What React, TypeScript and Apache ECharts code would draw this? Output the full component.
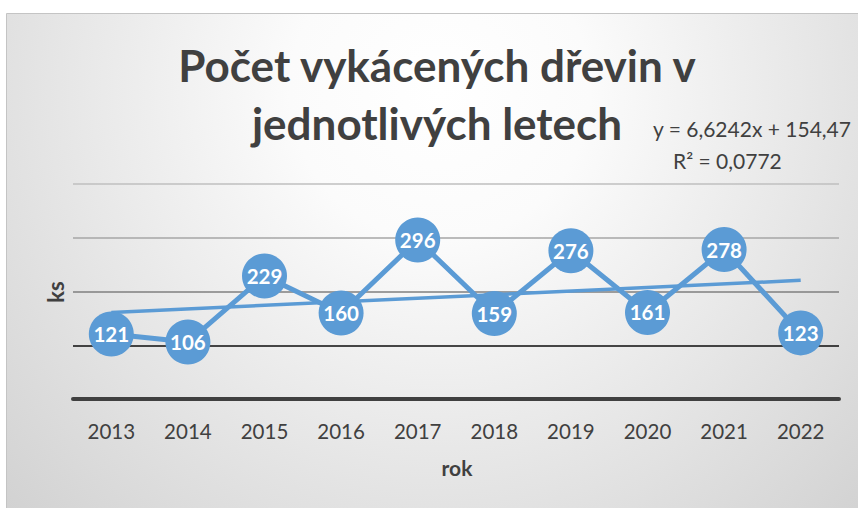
import React, { useEffect, useRef } from "react";
import * as echarts from "echarts";

const YEARS = ["2013", "2014", "2015", "2016", "2017", "2018", "2019", "2020", "2021", "2022"];
const COUNTS = [121, 106, 229, 160, 296, 159, 276, 161, 278, 123];
const TREND_SLOPE = 6.6242;
const TREND_INTERCEPT = 154.47;
const Y_MIN = 0;
const Y_MAX = 400;
const Y_STEP = 100;
const TITLE_LINES = ["Počet vykácených dřevin v", "jednotlivých letech"];
const EQUATION_LINES = ["y = 6,6242x + 154,47", "R² = 0,0772"];
const X_NAME = "rok";
const Y_NAME = "ks";

const FONT = "Lato, 'Noto Sans', sans-serif";
const TEXT = "#404040";
const BLUE = "#5b9bd5";

export default function App() {
  const ref = useRef<HTMLDivElement>(null);

  useEffect(() => {
    if (!ref.current) return;
    const chart = echarts.init(ref.current, undefined, { renderer: "svg" });
    const last = YEARS.length - 1;
    const trend = YEARS.map((_, i) =>
      i === 0 || i === last ? TREND_INTERCEPT + TREND_SLOPE * (i + 1) : null
    );

    chart.setOption({
      animation: false,
      backgroundColor: "#ffffff",
      grid: { left: 73, right: 19, top: 184, bottom: 109, containLabel: false },
      xAxis: {
        type: "category",
        data: YEARS,
        boundaryGap: true,
        axisLine: { show: true, lineStyle: { color: "#404040", width: 4 } },
        axisTick: { show: false },
        axisLabel: { color: TEXT, fontFamily: FONT, fontSize: 20.5, margin: 21 },
        splitLine: { show: false },
      },
      yAxis: {
        type: "value",
        min: Y_MIN,
        max: Y_MAX,
        interval: Y_STEP,
        axisLine: { show: false },
        axisTick: { show: false },
        axisLabel: { show: false },
        splitLine: {
          show: true,
          lineStyle: {
            color: ["#404040", "#0d0d0d", "#7f7f7f", "#a6a6a6", "#bfbfbf"],
            width: 1.5,
          },
        },
      },
      graphic: [
        {
          type: "rect",
          z: -10,
          silent: true,
          shape: { x: 6.5, y: 13.5, width: 900, height: 600 },
          style: {
            fill: new echarts.graphic.RadialGradient(
              440,
              90,
              600,
              [
                { offset: 0, color: "#ffffff" },
                { offset: 0.25, color: "#fbfbfb" },
                { offset: 1, color: "#d2d2d2" },
              ],
              true
            ),
            stroke: "#c4c4c4",
            lineWidth: 1,
          },
        },
        {
          type: "text",
          x: 437,
          y: 65,
          style: {
            text: TITLE_LINES[0],
            fill: TEXT,
            fontFamily: FONT,
            fontWeight: "bold",
            fontSize: 44,
            align: "center",
            verticalAlign: "middle",
          },
        },
        {
          type: "text",
          x: 437,
          y: 123,
          style: {
            text: TITLE_LINES[1],
            fill: TEXT,
            fontFamily: FONT,
            fontWeight: "bold",
            fontSize: 44,
            align: "center",
            verticalAlign: "middle",
          },
        },
        {
          type: "text",
          x: 653,
          y: 128,
          style: {
            text: EQUATION_LINES[0],
            fill: TEXT,
            fontFamily: FONT,
            fontSize: 21,
            align: "left",
            verticalAlign: "middle",
          },
        },
        {
          type: "text",
          x: 673,
          y: 160,
          style: {
            text: EQUATION_LINES[1],
            fill: TEXT,
            fontFamily: FONT,
            fontSize: 21,
            align: "left",
            verticalAlign: "middle",
          },
        },
        {
          type: "text",
          x: 457,
          y: 467,
          style: {
            text: X_NAME,
            fill: TEXT,
            fontFamily: FONT,
            fontWeight: "bold",
            fontSize: 21,
            align: "center",
            verticalAlign: "middle",
          },
        },
        {
          type: "text",
          x: 55,
          y: 292,
          rotation: Math.PI / 2,
          style: {
            text: Y_NAME,
            fill: TEXT,
            fontFamily: FONT,
            fontWeight: "bold",
            fontSize: 22,
            align: "center",
            verticalAlign: "middle",
          },
        },
      ],
      series: [
        {
          name: "trend",
          type: "line",
          data: trend,
          connectNulls: true,
          showSymbol: false,
          symbol: "none",
          z: 1,
          lineStyle: { color: BLUE, width: 3.5 },
          silent: true,
        },
        {
          name: "počet",
          type: "line",
          data: COUNTS,
          z: 2,
          symbol: "circle",
          symbolSize: 45,
          itemStyle: { color: BLUE, borderWidth: 0 },
          lineStyle: { color: BLUE, width: 5 },
          label: {
            show: true,
            position: "inside",
            color: "#ffffff",
            fontFamily: FONT,
            fontWeight: "bold",
            fontSize: 20.5,
          },
        },
      ],
    });

    return () => chart.dispose();
  }, []);

  return (
    <div
      ref={ref}
      style={{ position: "fixed", left: 0, top: 0, width: 858, height: 508 }}
    />
  );
}
